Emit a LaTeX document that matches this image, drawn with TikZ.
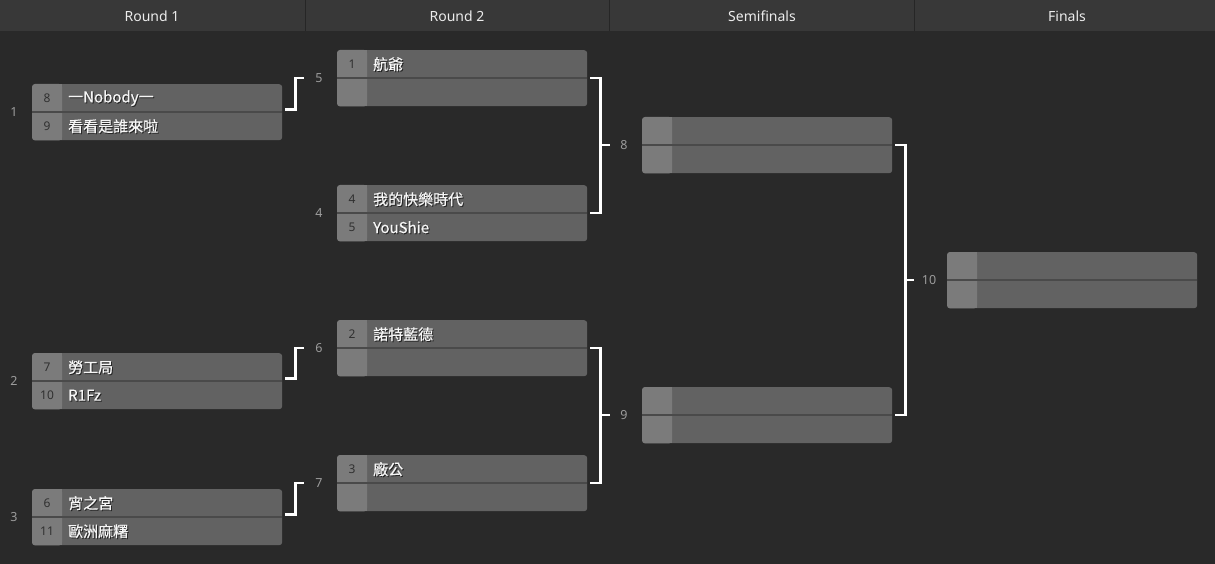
\documentclass[tikz,border=0pt]{standalone}
\usepackage{fontspec}
\setmainfont{Noto Sans}
\newfontfamily\cjk[FakeBold=0.6]{Noto Sans CJK TC}
\usepackage{tikz}
\usetikzlibrary{positioning}
\usepackage{xcolor}

\definecolor{bgcol}{HTML}{292929}
\definecolor{headcol}{HTML}{383838}
\definecolor{headline}{HTML}{262626}
\definecolor{headtext}{HTML}{ECECEC}
\definecolor{namecell}{HTML}{626262}
\definecolor{seedcell}{HTML}{7B7B7B}
\definecolor{seedtext}{HTML}{303030}
\definecolor{teamtext}{HTML}{F6F6F6}
\definecolor{numtext}{HTML}{9C9C9C}
\definecolor{divcol}{HTML}{4A4A4A}

\tikzset{
    matchbox/.style={fill=namecell, rounded corners=3pt, minimum width=250pt,
        minimum height=56pt, inner sep=0pt},
    seedbox/.style={fill=seedcell},
    divider/.style={draw=divcol, line width=1.5pt},
    seednum/.style={text=seedtext, font=\fontsize{12}{14}\selectfont, inner sep=0pt},
    team/.style={text=teamtext, font=\cjk\fontsize{15}{18}\selectfont, anchor=west, inner sep=0pt},
    teamshadow/.style={team, text=black, text opacity=0.55},
    matchnum/.style={text=numtext, font=\fontsize{12.5}{14}\selectfont, inner sep=0pt},
    heading/.style={text=headtext, font=\fontsize{14}{16}\selectfont},
    link/.style={draw=white, line width=2.5pt}
}

% name, x, y (top left), match number, seed 1, team 1, seed 2, team 2
\newcommand\bracketmatch[8]{%
    \node[matchbox, anchor=north west] (#1) at (#2, #3) {};
    \fill[seedbox, rounded corners=3pt]
        (#1.north west) rectangle ([xshift=30pt]#1.south west);
    \fill[seedbox] ([xshift=20pt]#1.north west) rectangle ([xshift=30pt]#1.south west);
    \draw[divider] (#1.west) -- (#1.east);
    \node[seednum] at ([shift={(15pt, 14pt)}]#1.west) {#5};
    \node[seednum] at ([shift={(15pt, -14pt)}]#1.west) {#7};
    \node[teamshadow] at ([shift={(37pt, 13pt)}]#1.west) {#6};
    \node[teamshadow] at ([shift={(37pt, -15pt)}]#1.west) {#8};
    \node[team] at ([shift={(36pt, 14pt)}]#1.west) {#6};
    \node[team] at ([shift={(36pt, -14pt)}]#1.west) {#8};
    \node[matchnum] (l#4) at ([xshift=-18pt]#1.west) {#4};
}

\begin{document}
\begin{tikzpicture}[x=1pt, y=-1pt]
        \fill[bgcol] (0, 0) rectangle (1215, 564);
        \useasboundingbox (0, 0) rectangle (1215, 564);
        % header
        \fill[headcol] (0, 0) rectangle (1215, 31);
        \foreach \sx in {305, 609, 914}
            \draw[headline, line width=1pt] (\sx, 0) -- (\sx, 31);
        \foreach \t [count=\i] in {Round 1, Round 2, Semifinals, Finals}
            \node[heading] (h\i) at ({152 + 305*(\i-1)}, 16) {\t};

        % round 1
        \bracketmatch{m1}{32}{84}{1}{8}{一Nobody一}{9}{看看是誰來啦}
        \bracketmatch{m2}{32}{353}{2}{7}{勞工局}{10}{R1Fz}
        \bracketmatch{m3}{32}{489}{3}{6}{宵之宮}{11}{歐洲麻糬}
        % round 2
        \bracketmatch{m5}{337}{50}{5}{1}{航爺}{}{}
        \bracketmatch{m4}{337}{185}{4}{4}{我的快樂時代}{5}{YouShie}
        \bracketmatch{m6}{337}{320}{6}{2}{諾特藍德}{}{}
        \bracketmatch{m7}{337}{455}{7}{3}{廠公}{}{}
        % semifinals, finals
        \bracketmatch{m8}{642}{117}{8}{}{}{}{}
        \bracketmatch{m9}{642}{387}{9}{}{}{}{}
        \bracketmatch{m10}{947}{252}{10}{}{}{}{}

        \draw[link] ([shift={(3pt, 2.5pt)}]m1.east) -- ++(10, 0) |- ([xshift=-33pt]m5.west);
        \draw[link] ([shift={(3pt, 2.5pt)}]m2.east) -- ++(10, 0) |- ([xshift=-33pt]m6.west);
        \draw[link] ([shift={(3pt, 2.5pt)}]m3.east) -- ++(10, 0) |- ([xshift=-33pt]m7.west);

        \draw[link] ([xshift=3pt]m5.east) -- ++(10, 0) |- ([xshift=3pt]m4.east);
        \draw[link] ([xshift=-43pt]m8.west) -- ([xshift=-32pt]m8.west);
        \draw[link] ([xshift=3pt]m6.east) -- ++(10, 0) |- ([xshift=3pt]m7.east);
        \draw[link] ([xshift=-43pt]m9.west) -- ([xshift=-32pt]m9.west);

        \draw[link] ([xshift=3pt]m8.east) -- ++(10, 0) |- ([xshift=3pt]m9.east);
        \draw[link] ([xshift=-43pt]m10.west) -- ([xshift=-33pt]m10.west);
    \end{tikzpicture}
\end{document}
